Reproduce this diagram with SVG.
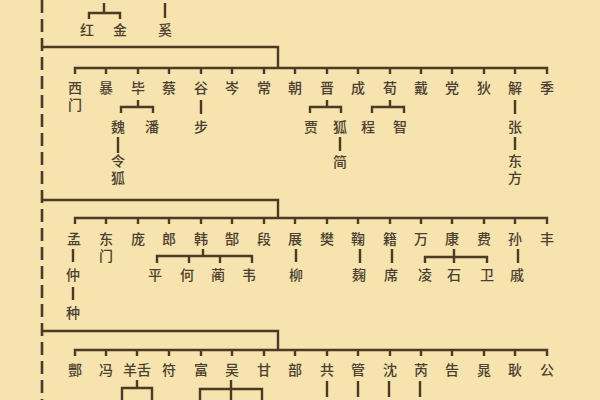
<svg xmlns="http://www.w3.org/2000/svg" width="600" height="400" viewBox="0 0 600 400">
<style>
.t{font-family:"Noto Sans CJK SC","Noto Sans CJK TC",sans-serif;font-size:14px;fill:#4a3f30;text-anchor:middle;font-weight:500}
.v{writing-mode:vertical-rl;text-anchor:start;letter-spacing:3px}
.l{stroke:#4a3a26;stroke-width:2.4;fill:none}
.d{stroke:#4a3a26;stroke-width:2.6;fill:none;stroke-dasharray:13 6}
</style>
<rect width="600" height="400" fill="#f6e3ae"/>
<g id="connectors">
<path class="d" d="M42 0V400"/>
<path class="l" d="M104 3V13M89 19V13H120V19M165 3V18"/>
<path class="l" d="M42 47H278V68M75 74V68H547V74M106 68V74M138 68V74M169 68V74M201 68V74M232 68V74M264 68V74M295 68V74M327 68V74M358 68V74M390 68V74M421 68V74M452 68V74M484 68V74M515 68V74"/>
<path class="l" d="M138 100V107M121 113V107H153V113M118 137V153M201 100V114M327 100V107M310 113V107H341V113M340 137V151M390 100V107M372 113V107H404V113M515 100V114M515 137V150"/>
<path class="l" d="M42 200H278V218M75 224V218H547V224M106 218V224M138 218V224M169 218V224M201 218V224M232 218V224M264 218V224M295 218V224M327 218V224M358 218V224M390 218V224M421 218V224M452 218V224M484 218V224M515 218V224"/>
<path class="l" d="M73 249V262M73 287V300M203 249V256M157 263V256H252V263M189 256V263M220 256V263M296 249V262M360 249V263M392 249V263M454 249V263M425 263V257H487V263M518 249V263"/>
<path class="l" d="M42 331H278V349M75 356V350H547V356M106 350V356M137 350V356M169 350V356M201 350V356M232 350V356M264 350V356M295 350V356M327 350V356M358 350V356M390 350V356M421 350V356M452 350V356M484 350V356M515 350V356"/>
<path class="l" d="M137 380V388M122 400V388H152V400M231 380V400M200 400V389H262V400M327 381V397M358 381V397M389 381V397M420 381V397"/>
</g>
<g id="n-hong"><text class="t" x="87" y="35">红</text></g>
<g id="n-jin"><text class="t" x="120" y="35">金</text></g>
<g id="n-xi"><text class="t" x="165" y="35">奚</text></g>
<g id="n-ximen"><text class="t v" x="75" y="81">西门</text></g>
<g id="n-bao"><text class="t" x="106" y="93">暴</text></g>
<g id="n-bi"><text class="t" x="138" y="93">毕</text></g>
<g id="n-cai"><text class="t" x="169" y="93">蔡</text></g>
<g id="n-gu"><text class="t" x="201" y="93">谷</text></g>
<g id="n-cen"><text class="t" x="232" y="93">岑</text></g>
<g id="n-chang"><text class="t" x="264" y="93">常</text></g>
<g id="n-chao"><text class="t" x="295" y="93">朝</text></g>
<g id="n-jin2"><text class="t" x="327" y="93">晋</text></g>
<g id="n-cheng"><text class="t" x="358" y="93">成</text></g>
<g id="n-xun"><text class="t" x="390" y="93">荀</text></g>
<g id="n-dai"><text class="t" x="421" y="93">戴</text></g>
<g id="n-dang"><text class="t" x="452" y="93">党</text></g>
<g id="n-di"><text class="t" x="484" y="93">狄</text></g>
<g id="n-xie"><text class="t" x="515" y="93">解</text></g>
<g id="n-ji"><text class="t" x="547" y="93">季</text></g>
<g id="n-wei"><text class="t" x="118" y="132">魏</text></g>
<g id="n-pan"><text class="t" x="152" y="132">潘</text></g>
<g id="n-linghu"><text class="t v" x="118" y="154">令狐</text></g>
<g id="n-bu"><text class="t" x="201" y="132">步</text></g>
<g id="n-jia"><text class="t" x="311" y="132">贾</text></g>
<g id="n-hu"><text class="t" x="340" y="132">狐</text></g>
<g id="n-jian"><text class="t" x="340" y="167">简</text></g>
<g id="n-cheng2"><text class="t" x="368" y="132">程</text></g>
<g id="n-zhi"><text class="t" x="400" y="132">智</text></g>
<g id="n-zhang"><text class="t" x="515" y="132">张</text></g>
<g id="n-dongfang"><text class="t v" x="515" y="154">东方</text></g>
<g id="n-meng"><text class="t" x="74" y="244">孟</text></g>
<g id="n-dongmen"><text class="t v" x="106" y="232">东门</text></g>
<g id="n-pang"><text class="t" x="138" y="244">庞</text></g>
<g id="n-lang"><text class="t" x="169" y="244">郎</text></g>
<g id="n-han"><text class="t" x="201" y="244">韩</text></g>
<g id="n-gao"><text class="t" x="232" y="244">郜</text></g>
<g id="n-duan"><text class="t" x="264" y="244">段</text></g>
<g id="n-zhan"><text class="t" x="295" y="244">展</text></g>
<g id="n-fan"><text class="t" x="327" y="244">樊</text></g>
<g id="n-ju"><text class="t" x="358" y="244">鞠</text></g>
<g id="n-ji2"><text class="t" x="390" y="244">籍</text></g>
<g id="n-wan"><text class="t" x="421" y="244">万</text></g>
<g id="n-kang"><text class="t" x="452" y="244">康</text></g>
<g id="n-fei"><text class="t" x="484" y="244">费</text></g>
<g id="n-sun"><text class="t" x="515" y="244">孙</text></g>
<g id="n-feng"><text class="t" x="547" y="244">丰</text></g>
<g id="n-zhong"><text class="t" x="73" y="280">仲</text></g>
<g id="n-zhong2"><text class="t" x="73" y="318">种</text></g>
<g id="n-ping"><text class="t" x="155" y="280">平</text></g>
<g id="n-he"><text class="t" x="187" y="280">何</text></g>
<g id="n-lin"><text class="t" x="218" y="280">蔺</text></g>
<g id="n-wei2"><text class="t" x="249" y="280">韦</text></g>
<g id="n-liu"><text class="t" x="296" y="280">柳</text></g>
<g id="n-qu"><text class="t" x="359" y="280">麹</text></g>
<g id="n-xi2"><text class="t" x="391" y="280">席</text></g>
<g id="n-ling"><text class="t" x="425" y="280">凌</text></g>
<g id="n-shi"><text class="t" x="454" y="280">石</text></g>
<g id="n-wei3"><text class="t" x="487" y="280">卫</text></g>
<g id="n-qi"><text class="t" x="517" y="280">戚</text></g>
<g id="n-feng2"><text class="t" x="75" y="375">酆</text></g>
<g id="n-feng3"><text class="t" x="106" y="375">冯</text></g>
<g id="n-yangshe"><text class="t" x="137" y="375">羊舌</text></g>
<g id="n-fu"><text class="t" x="169" y="375">符</text></g>
<g id="n-fu2"><text class="t" x="201" y="375">富</text></g>
<g id="n-wu"><text class="t" x="232" y="375">吴</text></g>
<g id="n-gan"><text class="t" x="264" y="375">甘</text></g>
<g id="n-bu2"><text class="t" x="295" y="375">部</text></g>
<g id="n-gong"><text class="t" x="327" y="375">共</text></g>
<g id="n-guan"><text class="t" x="358" y="375">管</text></g>
<g id="n-shen"><text class="t" x="390" y="375">沈</text></g>
<g id="n-rui"><text class="t" x="421" y="375">芮</text></g>
<g id="n-gao2"><text class="t" x="452" y="375">告</text></g>
<g id="n-chao2"><text class="t" x="484" y="375">晁</text></g>
<g id="n-geng"><text class="t" x="515" y="375">耿</text></g>
<g id="n-gong2"><text class="t" x="547" y="375">公</text></g>
</svg>
